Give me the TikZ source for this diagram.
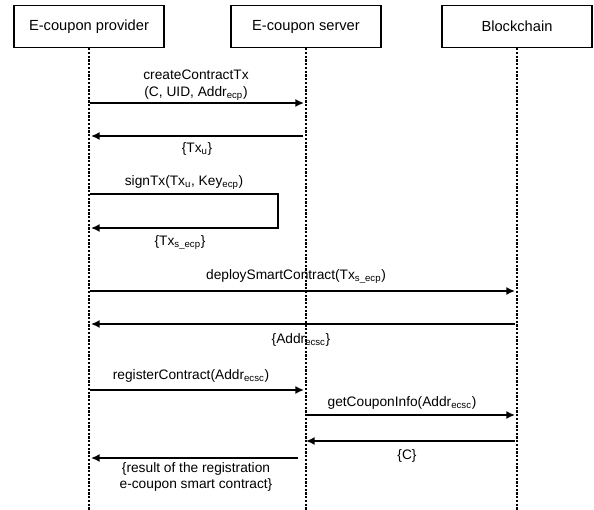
\documentclass[tikz,border=0pt]{standalone}
\usepackage{fontspec}
\setmainfont{Liberation Sans}
\usetikzlibrary{arrows.meta}
\begin{document}
\begin{tikzpicture}[x=0.75pt,y=-0.75pt,
  actor/.style={draw, line width=1.1pt, minimum width=112.5pt, minimum height=31.5pt,
    inner sep=0pt, font=\fontsize{11}{13}\selectfont},
  lifeline/.style={line width=1.3pt, dash pattern=on 1.7pt off 1.1pt},
  msg/.style={line width=1.2pt, line join=miter, -{Latex[length=6.5pt,width=6pt]}},
  lbl/.style={font=\fontsize{10.3}{12.5}\selectfont, inner sep=0pt, align=center},
]
\useasboundingbox (0,0) rectangle (594,510);

% participants
\node[actor] (prov) at (89,26.5) {E-coupon provider};
\node[actor] (serv) at (306,26.5) {E-coupon server};
\node[actor] (chain) at (517,26.5) {Blockchain};

% lifelines
\coordinate (provEnd) at (89,512);
\coordinate (servEnd) at (306,512);
\coordinate (chainEnd) at (517,512);
\draw[lifeline] (prov.south) -- (provEnd);
\draw[lifeline] (serv.south) -- (servEnd);
\draw[lifeline] (chain.south) -- (chainEnd);

% message anchors on the lifelines
\coordinate (p1) at (90,103);   \coordinate (s1) at (304,103);
\coordinate (p2) at (91,136);   \coordinate (s2) at (303,136);
\coordinate (l1) at (90,194);   \coordinate (l2) at (278,194);
\coordinate (l3) at (278,228);  \coordinate (l4) at (91,228);
\coordinate (p4) at (90,291);   \coordinate (b4) at (515,291);
\coordinate (p5) at (91,324);   \coordinate (b5) at (515,324);
\coordinate (p6) at (90,390);   \coordinate (s6) at (304,390);
\coordinate (s7) at (306,415);  \coordinate (b7) at (515,415);
\coordinate (s8) at (306,441);  \coordinate (b8) at (515,441);
\coordinate (p9) at (91,458);   \coordinate (s9) at (298,458);

% messages
\draw[msg] (p1) -- (s1);
\node[lbl] (m1) at (196,85) {createContractTx\\(C, UID, Addr\textsubscript{ecp})};

\draw[msg] (s2) -- (p2);
\node[lbl] (m2) at (197,149) {\{Tx\textsubscript{u}\}};

\draw[msg] (l1) -- (l2) -- (l3) -- (l4);
\node[lbl] (m3) at (184,183) {signTx(Tx\textsubscript{u}, Key\textsubscript{ecp})};
\node[lbl] (m3r) at (180,243) {\{Tx\textsubscript{s\_ecp}\}};

\draw[msg] (p4) -- (b4);
\node[lbl] (m4) at (296,277) {deploySmartContract(Tx\textsubscript{s\_ecp})};

\draw[msg] (b5) -- (p5);
\node[lbl] (m5) at (301,340) {\{Addr\textsubscript{ecsc}\}};

\draw[msg] (p6) -- (s6);
\node[lbl] (m6) at (191,376) {registerContract(Addr\textsubscript{ecsc})};

\draw[msg] (s7) -- (b7);
\node[lbl] (m7) at (402,403) {getCouponInfo(Addr\textsubscript{ecsc})};

\draw[msg] (b8) -- (s8);
\node[lbl] (m8) at (407,456) {\{C\}};

\draw[msg] (s9) -- (p9);
\node[lbl] (m9) at (196,477) {\{result of the registration\\e-coupon smart contract\}};
\end{tikzpicture}
\end{document}
